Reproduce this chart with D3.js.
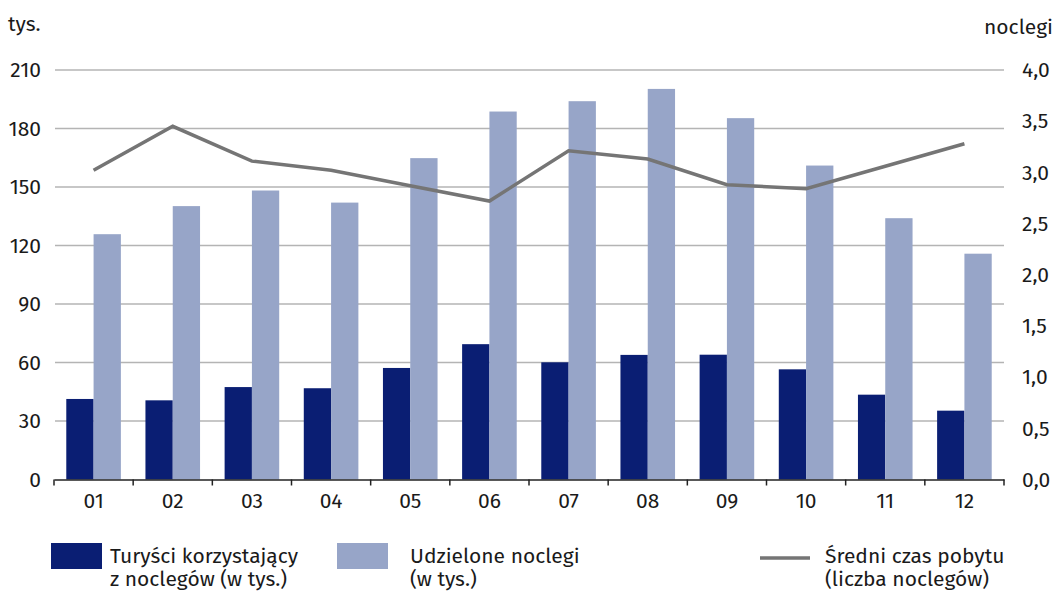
<!DOCTYPE html>
<html>
<head>
<meta charset="utf-8">
<script src="https://cdn.jsdelivr.net/npm/d3@7"></script>
<style>
  body { margin: 0; background: #fff; }
  svg text { font-family: "Fira Sans", "Noto Sans", "Open Sans", sans-serif; fill: #1a1a1a; }
</style>
</head>
<body>
<svg width="1056" height="591"></svg>
<script>
var months = ["01", "02", "03", "04", "05", "06", "07", "08", "09", "10", "11", "12"];
var tourists = [41.3, 40.6, 47.4, 46.8, 57.2, 69.4, 60.1, 63.9, 64.0, 56.5, 43.5, 35.3];
var nights = [125.8, 140.2, 148.2, 142.0, 164.8, 188.7, 194.0, 200.3, 185.3, 161.0, 134.0, 115.8];
var avgStay = [3.02, 3.45, 3.11, 3.02, 2.87, 2.72, 3.21, 3.13, 2.88, 2.84, 3.06, 3.28];
var leftTicks = [0, 30, 60, 90, 120, 150, 180, 210];
var rightTicks = [0, 0.5, 1, 1.5, 2, 2.5, 3, 3.5, 4];

var svg = d3.select("svg");
var plotLeft = 54, plotRight = 1004, plotTop = 70, plotBottom = 479.5;
var fontSize = "21px";

var x = d3.scaleBand().domain(months).range([plotLeft, plotRight]);
var inner = d3.scaleBand().domain(["t", "n"]).range([0, x.bandwidth()]).paddingOuter(0.45);
var y = d3.scaleLinear().domain([0, 210]).range([plotBottom, plotTop]);
var y2 = d3.scaleLinear().domain([0, 4]).range([plotBottom, plotTop]);

// gridlines
svg.append("g")
  .selectAll("line")
  .data(leftTicks.slice(1))
  .enter().append("line")
  .attr("x1", plotLeft + 1).attr("x2", plotRight)
  .attr("y1", d => y(d)).attr("y2", d => y(d))
  .attr("stroke", "#b4b4b4").attr("stroke-width", 1.5);

// bars
var g = svg.append("g");
g.selectAll(".bar-t")
  .data(tourists)
  .enter().append("rect")
  .attr("class", "bar-t")
  .attr("x", (d, i) => x(months[i]) + inner("t"))
  .attr("y", d => y(d))
  .attr("width", inner.bandwidth())
  .attr("height", d => plotBottom - y(d))
  .attr("fill", "#0a1e73");
g.selectAll(".bar-n")
  .data(nights)
  .enter().append("rect")
  .attr("class", "bar-n")
  .attr("x", (d, i) => x(months[i]) + inner("n"))
  .attr("y", d => y(d))
  .attr("width", inner.bandwidth())
  .attr("height", d => plotBottom - y(d))
  .attr("fill", "#97a5c8");

// x axis
var xAxis = d3.axisBottom(x).tickSize(0).tickPadding(14);
var xg = svg.append("g").attr("transform", `translate(0,${plotBottom})`).call(xAxis);
xg.select(".domain").attr("stroke", "#222").attr("stroke-width", 1.5);
xg.selectAll("text").style("font-size", fontSize).attr("fill", "#1a1a1a");
svg.append("g")
  .selectAll("line")
  .data(d3.range(months.length + 1))
  .enter().append("line")
  .attr("x1", d => plotLeft + d * x.bandwidth())
  .attr("x2", d => plotLeft + d * x.bandwidth())
  .attr("y1", plotBottom).attr("y2", plotBottom + 6)
  .attr("stroke", "#222").attr("stroke-width", 1.5);

// left axis
var yAxis = d3.axisLeft(y).tickValues(leftTicks).tickSize(0).tickPadding(13);
var yg = svg.append("g").attr("transform", `translate(${plotLeft},0)`).call(yAxis);
yg.select(".domain").remove();
yg.selectAll("text").style("font-size", fontSize).attr("fill", "#1a1a1a");

// right axis
var fmt = d => d3.format(".1f")(d).replace(".", ",");
var y2Axis = d3.axisRight(y2).tickValues(rightTicks).tickFormat(fmt).tickSize(0).tickPadding(18);
var y2g = svg.append("g").attr("transform", `translate(${plotRight},0)`).call(y2Axis);
y2g.select(".domain").remove();
y2g.selectAll("text").style("font-size", fontSize).attr("fill", "#1a1a1a");

// line
var line = d3.line()
  .x((d, i) => x(months[i]) + x.bandwidth() / 2)
  .y(d => y2(d));
svg.append("path")
  .datum(avgStay)
  .attr("d", line)
  .attr("fill", "none")
  .attr("stroke", "#757575")
  .attr("stroke-width", 3.5);

// unit labels
svg.append("text").attr("x", 8).attr("y", 31).style("font-size", fontSize).text("tys.");
svg.append("text").attr("x", 1053).attr("y", 34).attr("text-anchor", "end").style("font-size", fontSize).text("noclegi");

// legend
var legend = svg.append("g");
legend.append("rect").attr("x", 51).attr("y", 543).attr("width", 51).attr("height", 26).attr("fill", "#0a1e73");
legend.append("rect").attr("x", 337).attr("y", 543).attr("width", 51).attr("height", 26).attr("fill", "#97a5c8");
legend.append("line").attr("x1", 760).attr("x2", 810).attr("y1", 558).attr("y2", 558)
  .attr("stroke", "#757575").attr("stroke-width", 3.5);

var legendText = [
  { x: 110, lines: ["Turyści korzystający", "z noclegów (w tys.)"] },
  { x: 410, lines: ["Udzielone noclegi", "(w tys.)"] },
  { x: 825, lines: ["Średni czas pobytu", "(liczba noclegów)"] }
];
legendText.forEach(function (d) {
  var t = legend.append("text").attr("x", d.x).attr("y", 563).style("font-size", fontSize);
  d.lines.forEach(function (l, i) {
    t.append("tspan").attr("x", d.x).attr("dy", i === 0 ? 0 : 23).text(l);
  });
});
</script>
</body>
</html>
